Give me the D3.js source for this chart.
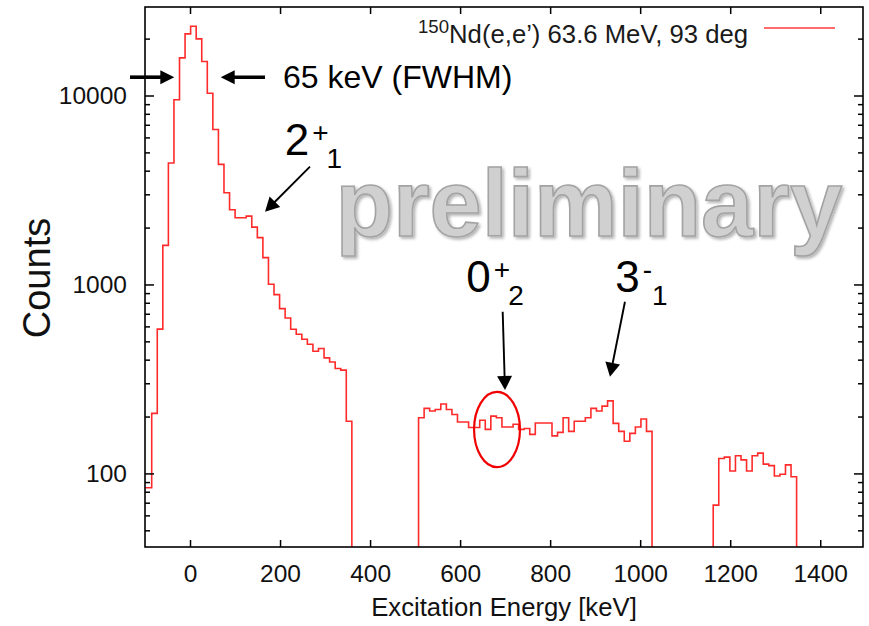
<!DOCTYPE html>
<html>
<head>
<meta charset="utf-8">
<script src="https://cdn.jsdelivr.net/npm/d3@7"></script>
<style>
  html, body { margin: 0; padding: 0; background: #fff; }
  svg { display: block; font-family: "Liberation Sans", Arial, Helvetica, sans-serif; }
</style>
</head>
<body>
<svg id="chart" width="869" height="626"></svg>
<script>
// 150Nd(e,e') excitation spectrum: counts per bin, three measured windows
const binWidth = 12.35;                 // keV per bin
const lowStart = -97.45;                // keV, first displayed bin of the ground-state window
const lowCounts = [84, 208, 580, 1610, 4390, 9490, 15820, 21200, 23250, 19940,
  15130, 10280, 6610, 4318, 3059, 2487, 2256, 2256, 2300, 2012,
  1769, 1387, 1002, 884, 745, 665, 579, 545, 513, 483,
  443, 458, 409, 389, 359, 352, 189];
const midStart = 507.7;
const midCounts = [197, 221, 214, 218, 233, 218, 205, 187, 187, 175,
  175, 191, 171, 201, 197, 176, 176, 182, 171, 173,
  161, 185, 185, 185, 158, 165, 197, 167, 189, 189,
  197, 221, 214, 227, 242, 184, 167, 148, 163, 176,
  194, 167];
const highStart = 1162.25;
const highCounts = [68, 120, 122, 103, 124, 118, 103, 124, 128, 112, 110, 97, 99, 111, 96];

const xDomain = [-100, 1495];
const yDomain = [40.8, 29400];
const xTicks = [0, 200, 400, 600, 800, 1000, 1200, 1400];
const yMajor = [100, 1000, 10000];
const yMinor = [50, 60, 70, 80, 90, 200, 300, 400, 500, 600, 700, 800, 900,
  2000, 3000, 4000, 5000, 6000, 7000, 8000, 9000, 20000];

const legendLabel = "Nd(e,e\u2019) 63.6 MeV, 93 deg";
const legendIsotope = "150";
const xTitle = "Excitation Energy [keV]";
const yTitle = "Counts";

// annotation anchors in data units (keV, counts)
const fwhmLevel = 12500;
const fwhmArrows = [
  { from: [-133.3, fwhmLevel], to: [-34.9, fwhmLevel] },
  { from: [166.6, fwhmLevel], to: [68.2, fwhmLevel] }
];
const fwhmText = { at: [206.6, 11000], text: "65 keV (FWHM)" };
const stateLabels = [
  { at: [214.8, 4843], main: "2", sup: "+", sub: "1" },
  { at: [618.2, 915.6], main: "0", sup: "+", sub: "2" },
  { at: [949.1, 915.6], main: "3", sup: "-", sub: "1" }
];
const stateArrows = [
  { from: [266.5, 4200], to: [166.6, 2427] },
  { from: [694.6, 717.6], to: [699.7, 276.4] },
  { from: [966.2, 810.6], to: [932.9, 325] }
];
const circledRegion = { x: [631, 733], y: [108, 270] };
const watermark = { at: [886, 1805], text: "preliminary" };

const W = 869, H = 626;
const margin = { top: 7, right: 6, bottom: 79, left: 145 };
const svg = d3.select("#chart");

const x = d3.scaleLinear().domain(xDomain).range([margin.left, W - margin.right]);
const y = d3.scaleLog().domain(yDomain).range([H - margin.bottom, margin.top]);
const [x0, x1] = x.range();
const [yb, yt] = y.range();

const defs = svg.append("defs");
defs.append("clipPath").attr("id", "plotClip")
  .append("rect").attr("x", x0).attr("y", yt).attr("width", x1 - x0).attr("height", yb - yt);
const shadow = defs.append("filter").attr("id", "wmShadow")
  .attr("x", "-10%").attr("y", "-20%").attr("width", "120%").attr("height", "140%");
shadow.append("feGaussianBlur").attr("in", "SourceAlpha").attr("stdDeviation", 1.6).attr("result", "b");
shadow.append("feOffset").attr("in", "b").attr("dx", 1.5).attr("dy", 2).attr("result", "o");
shadow.append("feComponentTransfer").attr("in", "o").attr("result", "s")
  .append("feFuncA").attr("type", "linear").attr("slope", 0.3);
const merge = shadow.append("feMerge");
merge.append("feMergeNode").attr("in", "s");
merge.append("feMergeNode").attr("in", "SourceGraphic");

// watermark
svg.append("text")
  .attr("x", x(watermark.at[0])).attr("y", y(watermark.at[1]))
  .attr("text-anchor", "middle")
  .attr("font-size", 94).attr("font-weight", "bold")
  .attr("fill", "#d0d0d0").attr("stroke", "#a3a3a3").attr("stroke-width", 1.6)
  .attr("filter", "url(#wmShadow)")
  .text(watermark.text);

// histogram outline; a window that starts at the left edge of the
// displayed range continues below it, so it gets no rising edge there
function stepPoints(start, counts) {
  const pts = [];
  if (start - xDomain[0] > 5) pts.push([start, null]);
  counts.forEach((c, i) => {
    pts.push([i === 0 && pts.length === 0 ? xDomain[0] : start + i * binWidth, c]);
    pts.push([start + (i + 1) * binWidth, c]);
  });
  pts.push([start + counts.length * binWidth, null]);
  return pts;
}
const line = d3.line()
  .x(d => x(d[0]))
  .y(d => d[1] == null ? yb + 2 : y(d[1]));
const plot = svg.append("g").attr("clip-path", "url(#plotClip)");
[[lowStart, lowCounts], [midStart, midCounts], [highStart, highCounts]].forEach(([s, c]) => {
  plot.append("path")
    .attr("d", line(stepPoints(s, c)))
    .attr("fill", "none").attr("stroke", "#ff2b2b").attr("stroke-width", 1.6)
    .attr("stroke-linejoin", "miter");
});

// circled region
svg.append("ellipse")
  .attr("cx", (x(circledRegion.x[0]) + x(circledRegion.x[1])) / 2)
  .attr("cy", (y(circledRegion.y[0]) + y(circledRegion.y[1])) / 2)
  .attr("rx", (x(circledRegion.x[1]) - x(circledRegion.x[0])) / 2)
  .attr("ry", (y(circledRegion.y[0]) - y(circledRegion.y[1])) / 2)
  .attr("fill", "none").attr("stroke", "#f00000").attr("stroke-width", 2.2);

// axes: ticks point inward, frame drawn as a box
function styleAxis(g) {
  g.select(".domain").remove();
  g.selectAll(".tick line").attr("stroke", "#000").attr("stroke-width", 1.5);
  g.selectAll(".tick text").attr("fill", "#111").attr("font-size", 24.5)
    .attr("font-family", "\"Liberation Sans\", Arial, sans-serif");
}
svg.append("g").attr("transform", `translate(0,${yb})`)
  .call(d3.axisBottom(x).tickValues(xTicks).tickSize(-7).tickPadding(18).tickFormat(d3.format("d")))
  .call(styleAxis);
svg.append("g").attr("transform", `translate(0,${yt})`)
  .call(d3.axisTop(x).tickValues(xTicks).tickSize(-7).tickFormat(""))
  .call(styleAxis);
svg.append("g").attr("transform", `translate(${x0},0)`)
  .call(d3.axisLeft(y).tickValues(yMajor).tickSize(-9).tickPadding(18).tickFormat(d3.format("d")))
  .call(styleAxis);
svg.append("g").attr("transform", `translate(${x0},0)`)
  .call(d3.axisLeft(y).tickValues(yMinor).tickSize(-5).tickFormat(""))
  .call(styleAxis);
svg.append("g").attr("transform", `translate(${x1},0)`)
  .call(d3.axisRight(y).tickValues(yMajor).tickSize(-9).tickFormat(""))
  .call(styleAxis);
svg.append("g").attr("transform", `translate(${x1},0)`)
  .call(d3.axisRight(y).tickValues(yMinor).tickSize(-5).tickFormat(""))
  .call(styleAxis);
svg.append("rect")
  .attr("x", x0).attr("y", yt).attr("width", x1 - x0).attr("height", yb - yt)
  .attr("fill", "none").attr("stroke", "#000").attr("stroke-width", 1.6);

// axis titles
svg.append("text")
  .attr("x", (x0 + x1) / 2).attr("y", yb + 69)
  .attr("text-anchor", "middle").attr("font-size", 25.7).attr("fill", "#111")
  .text(xTitle);
svg.append("text")
  .attr("transform", `translate(${x0 - 95},${(yt + yb) / 2 + 1}) rotate(-90)`)
  .attr("text-anchor", "middle").attr("font-size", 38).attr("fill", "#111")
  .text(yTitle);

// legend
const legend = svg.append("g");
const lt = legend.append("text")
  .attr("x", x1 - 115).attr("y", yt + 36)
  .attr("text-anchor", "end").attr("font-size", 25.7).attr("fill", "#1a1a1a");
lt.append("tspan").attr("font-size", 18.6).attr("dy", -9.7).text(legendIsotope);
lt.append("tspan").attr("dy", 9.7).text(legendLabel);
legend.append("line")
  .attr("x1", x1 - 99).attr("x2", x1 - 28).attr("y1", yt + 21).attr("y2", yt + 21)
  .attr("stroke", "#ff3b3b").attr("stroke-width", 1.5);

// arrows
function arrow(from, to, shaft, headL, headW) {
  const ax = x(from[0]), ay = y(from[1]), bx = x(to[0]), by = y(to[1]);
  const dx = bx - ax, dy = by - ay, len = Math.hypot(dx, dy);
  const ux = dx / len, uy = dy / len;
  const baseX = bx - ux * headL, baseY = by - uy * headL;
  svg.append("line")
    .attr("x1", ax).attr("y1", ay).attr("x2", baseX + ux * 1).attr("y2", baseY + uy * 1)
    .attr("stroke", "#000").attr("stroke-width", shaft);
  svg.append("path")
    .attr("d", d3.line()([
      [bx, by],
      [baseX - uy * headW, baseY + ux * headW],
      [baseX + uy * headW, baseY - ux * headW]
    ]) + "Z")
    .attr("fill", "#000");
}
fwhmArrows.forEach(a => arrow(a.from, a.to, 3.6, 14, 7));
stateArrows.forEach(a => arrow(a.from, a.to, 1.9, 14, 7.5));

svg.append("text")
  .attr("x", x(fwhmText.at[0])).attr("y", y(fwhmText.at[1]))
  .attr("font-size", 32).attr("fill", "#000")
  .text(fwhmText.text);

stateLabels.forEach(s => {
  const t = svg.append("text")
    .attr("x", x(s.at[0]) - 2).attr("y", y(s.at[1]))
    .attr("font-size", 44).attr("fill", "#000");
  t.append("tspan").text(s.main);
  t.append("tspan").attr("font-size", 28).attr("dx", 3).attr("dy", -13).text(s.sup);
  t.append("tspan").attr("font-size", 28).attr("dx", s.sup === "-" ? 0 : -2).attr("dy", 26).text(s.sub);
});
</script>
</body>
</html>
